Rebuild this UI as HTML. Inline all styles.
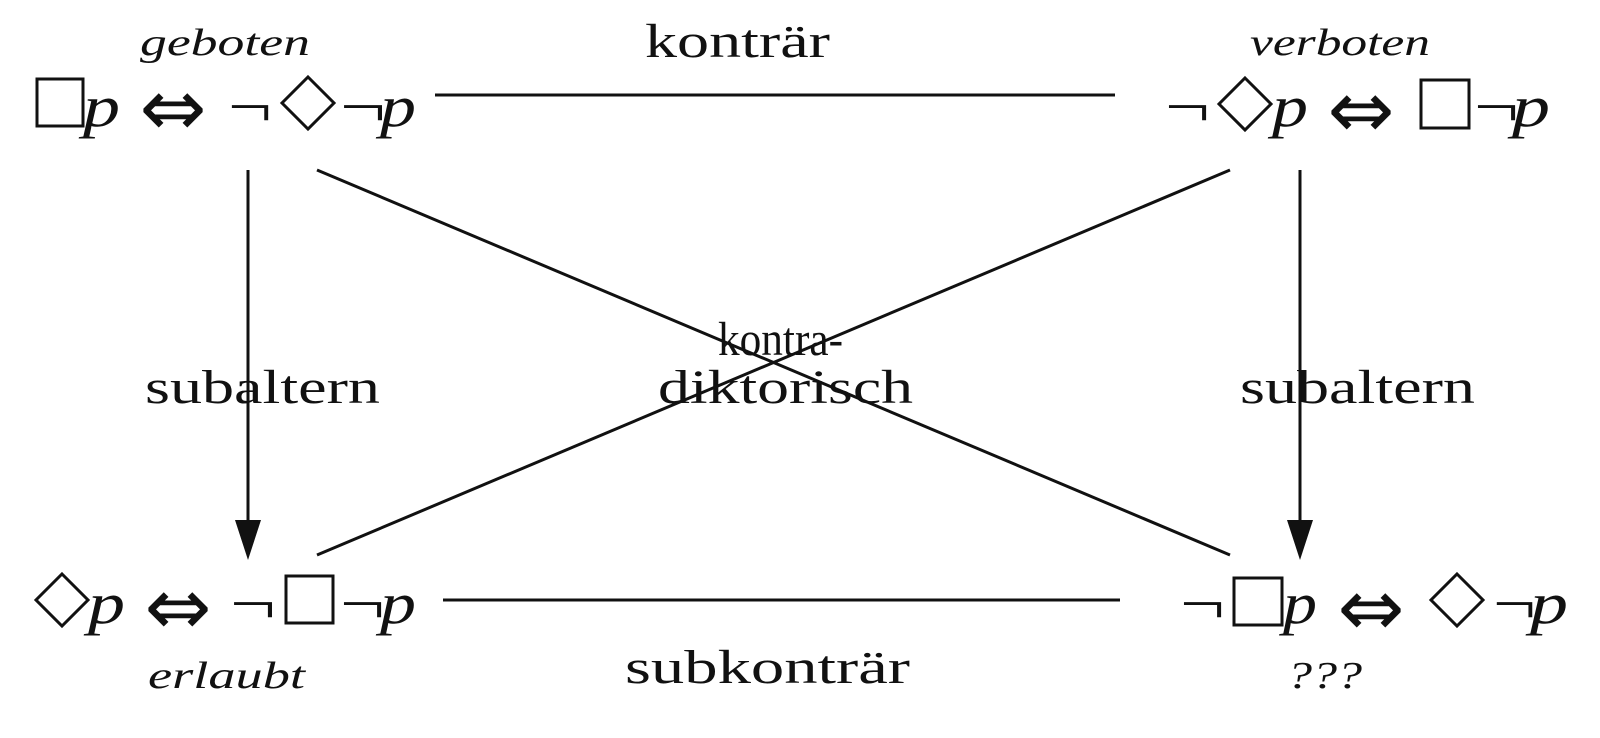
<!DOCTYPE html>
<html><head><meta charset="utf-8"><style>
html,body{margin:0;padding:0;background:#fff;}
svg{display:block;}
text{font-family:"Liberation Serif","DejaVu Serif",serif;fill:#111;}
.i{font-style:italic;}
.ar{font-family:"DejaVu Sans",sans-serif;font-size:80px;}
</style></head><body>
<svg width="1600" height="738" viewBox="0 0 1600 738" xmlns="http://www.w3.org/2000/svg">
<g stroke="#111" stroke-width="3" fill="none">
<line x1="435" y1="95" x2="1115" y2="95"/>
<line x1="443" y1="600" x2="1120" y2="600"/>
<line x1="317" y1="170" x2="1230" y2="555"/>
<line x1="1230" y1="170" x2="317" y2="555"/>
<line x1="248" y1="170" x2="248" y2="530"/>
<line x1="1300" y1="170" x2="1300" y2="530"/>
</g>
<path d="M235,520 L261,520 L248,560 Z" fill="#111"/>
<path d="M1287,520 L1313,520 L1300,560 Z" fill="#111"/>
<g stroke="#111" stroke-width="3" fill="none">
<rect x="37" y="79" width="46" height="47"/>
<path d="M308,77 L334,103 L308,129 L282,103 Z"/>
<path d="M1245,78 L1271,104 L1245,130 L1219,104 Z"/>
<rect x="1421" y="80" width="48" height="48"/>
<path d="M62,574 L88,600 L62,626 L36,600 Z"/>
<rect x="286" y="576" width="47" height="47"/>
<rect x="1234" y="578" width="48" height="47"/>
<path d="M1457,574 L1483,600 L1457,626 L1431,600 Z"/>
</g>
<g font-size="58">
<text x="83" y="126" class="i" textLength="37" lengthAdjust="spacingAndGlyphs">p</text>
<text x="228" y="126" textLength="44" lengthAdjust="spacingAndGlyphs">¬</text>
<text x="340" y="126" textLength="46" lengthAdjust="spacingAndGlyphs">¬</text>
<text x="380" y="126" class="i" textLength="36" lengthAdjust="spacingAndGlyphs">p</text>

<text x="1165" y="126" textLength="45" lengthAdjust="spacingAndGlyphs">¬</text>
<text x="1272" y="126" class="i" textLength="36" lengthAdjust="spacingAndGlyphs">p</text>
<text x="1474" y="126" textLength="45" lengthAdjust="spacingAndGlyphs">¬</text>
<text x="1512" y="126" class="i" textLength="38" lengthAdjust="spacingAndGlyphs">p</text>

<text x="88" y="623" class="i" textLength="37" lengthAdjust="spacingAndGlyphs">p</text>
<text x="230" y="623" textLength="46" lengthAdjust="spacingAndGlyphs">¬</text>
<text x="340" y="623" textLength="45" lengthAdjust="spacingAndGlyphs">¬</text>
<text x="380" y="623" class="i" textLength="36" lengthAdjust="spacingAndGlyphs">p</text>

<text x="1180" y="623" textLength="45" lengthAdjust="spacingAndGlyphs">¬</text>
<text x="1283" y="623" class="i" textLength="34" lengthAdjust="spacingAndGlyphs">p</text>
<text x="1493" y="623" textLength="43" lengthAdjust="spacingAndGlyphs">¬</text>
<text x="1530" y="623" class="i" textLength="38" lengthAdjust="spacingAndGlyphs">p</text>
</g>
<text class="ar" x="173" y="108" text-anchor="middle" dominant-baseline="central">⇔</text>
<text class="ar" x="1361" y="110" text-anchor="middle" dominant-baseline="central">⇔</text>
<text class="ar" x="178" y="607" text-anchor="middle" dominant-baseline="central">⇔</text>
<text class="ar" x="1371" y="608" text-anchor="middle" dominant-baseline="central">⇔</text>
<g font-size="38">
<text x="140" y="55" class="i" textLength="170" lengthAdjust="spacingAndGlyphs">geboten</text>
<text x="1250" y="55" class="i" textLength="180" lengthAdjust="spacingAndGlyphs">verboten</text>
<text x="148" y="688" class="i" textLength="157" lengthAdjust="spacingAndGlyphs">erlaubt</text>
<text x="1287" y="688" class="i" textLength="75" lengthAdjust="spacingAndGlyphs">???</text>
</g>
<g font-size="48">
<text x="645" y="57" textLength="185" lengthAdjust="spacingAndGlyphs">konträr</text>
<text x="145" y="403" textLength="235" lengthAdjust="spacingAndGlyphs">subaltern</text>
<text x="1240" y="403" textLength="235" lengthAdjust="spacingAndGlyphs">subaltern</text>
<text x="718" y="355" textLength="125" lengthAdjust="spacingAndGlyphs">kontra-</text>
<text x="658" y="403" textLength="255" lengthAdjust="spacingAndGlyphs">diktorisch</text>
<text x="625" y="683" textLength="285" lengthAdjust="spacingAndGlyphs">subkonträr</text>
</g>
</svg>
</body></html>
